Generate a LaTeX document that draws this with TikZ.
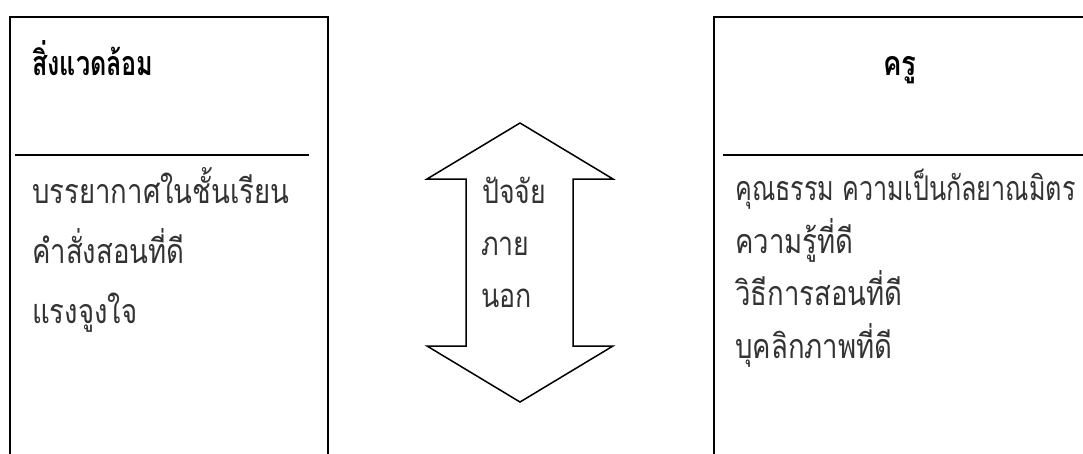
\documentclass[tikz,border=0pt]{standalone}
\usepackage{fontspec}
\newfontfamily\thaifont[Script=Thai,FakeStretch=0.81]{Loma}
\newfontfamily\thaitight[Script=Thai,FakeStretch=0.74]{Loma}
\begin{document}
\begin{tikzpicture}[x=1pt,y=-1pt,
  boxline/.style={line width=2pt,black},
  arrowline/.style={line width=1.5pt,black,line join=miter},
  item/.style={anchor=base west,inner sep=0pt,font=\thaifont\fontsize{34}{36}\selectfont,text=black!80},
  title/.style={anchor=base west,inner sep=0pt,font=\thaifont\bfseries\fontsize{34}{36}\selectfont},
  mid/.style={anchor=base west,inner sep=0pt,font=\thaifont\fontsize{33}{36}\selectfont,text=black!80}]
\useasboundingbox (0,0) rectangle (1083,453);
\clip (0,0) rectangle (1083,453);
\fill[white] (0,0) rectangle (1083,453);
% left box
\draw[boxline] (10,470) -- (10,17) -- (328,17) -- (328,470);
\coordinate (ld1) at (15,155);
\coordinate (ld2) at (309,155);
\draw[boxline] (ld1) -- (ld2);
\node[title,font=\thaitight\bfseries\fontsize{34}{36}\selectfont] (lt) at (32,75) {สิ่งแวดล้อม};
\node[item] (l1) at (32,203) {บรรยากาศในชั้นเรียน};
\node[item] (l2) at (32,263) {คำสั่งสอนที่ดี};
\node[item] (l3) at (32,323) {แรงจูงใจ};
% right box
\draw[boxline] (714,470) -- (714,17) -- (1090,17);
\coordinate (rd1) at (723,155);
\coordinate (rd2) at (1090,155);
\draw[boxline] (rd1) -- (rd2);
\node[title,anchor=base] (rt) at (900,75) {ครู};
\node[item,font=\thaitight\fontsize{34}{36}\selectfont] (r1) at (735,200) {คุณธรรม ความเป็นกัลยาณมิตร};
\node[item] (r2) at (735,253) {ความรู้ที่ดี};
\node[item] (r3) at (735,305) {วิธีการสอนที่ดี};
\node[item] (r4) at (735,358) {บุคลิกภาพที่ดี};
% double arrow
\draw[arrowline] (520,123) -- (613,179) -- (573,179) -- (573,346) -- (613,346)
  -- (520,402) -- (427,346) -- (466,346) -- (466,179) -- (427,179) -- cycle;
\node[mid] (m1) at (482,203) {ปัจจัย};
\node[mid] (m2) at (481,255) {ภาย};
\node[mid] (m3) at (481,307) {นอก};
\end{tikzpicture}
\end{document}
